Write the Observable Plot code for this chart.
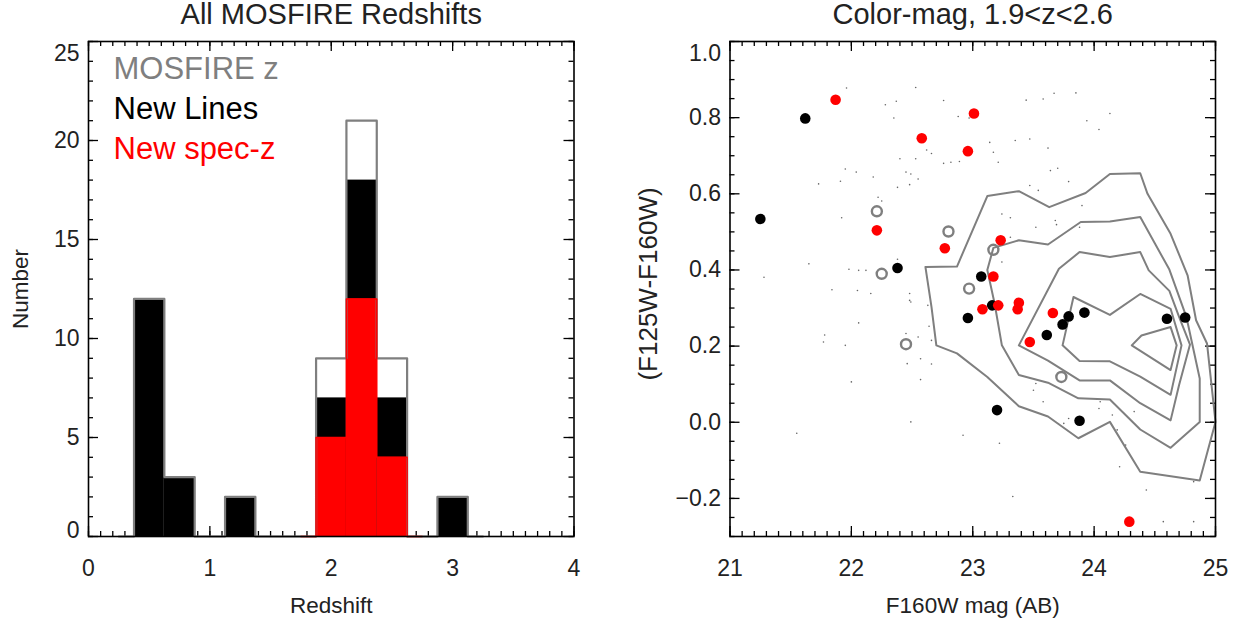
<!DOCTYPE html>
<html><head><meta charset="utf-8">
<script src="https://cdn.jsdelivr.net/npm/d3@7"></script>
<script src="https://cdn.jsdelivr.net/npm/@observablehq/plot@0.6"></script>
<style>
body{margin:0;background:#fff;}
#wrap{position:relative;width:1246px;height:624px;font-family:"Liberation Sans",Arial,sans-serif;}
#wrap svg{position:absolute;top:0;}
</style></head><body><div id="wrap"></div>
<script>
// ---------- Left panel: histogram ----------
const binCenters = [0.25,0.5,0.75,1.0,1.25,1.5,1.75,2.0,2.25,2.5,2.75,3.0,3.25];
const mosfireZ  = [0,12,3,0,2,0,0,9,21,9,0,2,0];
const newLines  = [0,12,3,0,2,0,0,7,18,7,0,2,0];
const newSpecZ  = [0,0,0,0,0,0,0,5,12,4,0,0,0];
const binWidth = 0.25;
const legendLabels = ["MOSFIRE z","New Lines","New spec-z"];
const leftXTicks = [0,1,2,3,4];
const leftYTicks = [0,5,10,15,20,25];

// ---------- Right panel: colour-magnitude ----------
const blackMag = [21.25,21.62,22.38,23.07,22.96,23.16,23.20,23.61,23.74,23.79,23.92,23.88,24.60,24.75];
const blackCol = [0.534,0.798,0.405,0.383,0.274,0.307,0.032,0.229,0.257,0.278,0.288,0.004,0.272,0.275];
const redMag = [21.87,22.58,23.01,22.96,22.21,22.77,23.23,23.17,23.08,23.21,23.38,23.37,23.66,23.47,24.29];
const redCol = [0.847,0.746,0.811,0.712,0.504,0.457,0.478,0.383,0.297,0.307,0.314,0.297,0.287,0.211,-0.261];
const openMag = [22.21,22.25,22.80,23.17,22.97,22.45,23.73];
const openCol = [0.554,0.390,0.501,0.453,0.351,0.205,0.119];
const fieldMag = [21.96,22.53,22.37,22.28,22.76,22.35,22.88,22.97,23.44,23.67,23.85,23.58,24.04,24.13,23.94,23.62,23.47,23.35,23.14,23.17,23.21,22.82,22.76,22.53,22.62,22.66,22.89,22.40,21.95,22.04,22.18,21.91,21.73,22.38,22.45,22.49,22.55,22.48,22.22,22.25,21.92,21.65,21.98,22.06,22.12,22.38,22.05,21.84,22.16,22.48,22.63,22.49,22.48,22.64,22.66,22.45,22.55,22.06,21.78,21.77,21.95,22.57,22.66,22.46,22.00,22.57,22.49,21.55,21.28,23.70,23.64,23.79,23.90,23.88,23.69,23.54,23.47,23.24,23.31,23.52,23.68,23.31,23.24,23.50,23.58,23.75,24.04,24.19,24.26,24.43,24.57,24.82,24.82,24.21,23.33,23.22,22.92,23.52,24.05,24.15,24.33,23.79];
const fieldCol = [0.878,0.879,0.843,0.834,0.845,0.799,0.803,0.799,0.846,0.864,0.865,0.849,0.769,0.811,0.792,0.720,0.744,0.740,0.735,0.709,0.683,0.683,0.680,0.692,0.715,0.706,0.685,0.692,0.665,0.657,0.644,0.633,0.626,0.617,0.657,0.652,0.639,0.624,0.591,0.581,0.537,0.416,0.402,0.399,0.399,0.428,0.346,0.348,0.338,0.320,0.307,0.316,0.338,0.252,0.215,0.233,0.224,0.261,0.229,0.211,0.202,0.167,0.153,0.154,0.106,0.112,0.001,-0.029,0.381,0.667,0.661,0.632,0.569,0.512,0.519,0.609,0.622,0.547,0.537,0.512,0.530,0.486,0.421,0.084,0.054,-0.003,0.036,-0.020,-0.060,-0.178,-0.261,-0.156,-0.261,-0.117,-0.195,-0.055,-0.034,0.102,0.054,0.019,0.028,0.010];
const contour1 = [[22.61,0.408],[22.87,0.409],[23.12,0.594],[23.38,0.607],[23.63,0.565],[23.93,0.602],[24.13,0.652],[24.38,0.654],[24.44,0.600],[24.63,0.495],[24.77,0.386],[24.84,0.268],[24.93,0.207],[25.00,0.001],[24.87,-0.153],[24.38,-0.130],[24.13,0.001],[23.87,-0.042],[23.62,0.015],[23.38,0.042],[23.12,0.119],[22.87,0.181],[22.70,0.202],[22.66,0.303],[22.61,0.408]];
const contour2 = [[23.12,0.400],[23.17,0.458],[23.38,0.478],[23.62,0.467],[23.89,0.526],[24.13,0.527],[24.38,0.539],[24.62,0.401],[24.76,0.277],[24.87,0.115],[24.87,0.001],[24.63,-0.067],[24.38,-0.019],[24.13,0.060],[23.87,0.063],[23.62,0.104],[23.38,0.124],[23.24,0.202],[23.18,0.312],[23.12,0.400]];
const contour3 = [[23.38,0.202],[23.71,0.403],[23.88,0.447],[24.13,0.434],[24.38,0.447],[24.45,0.399],[24.62,0.345],[24.70,0.277],[24.79,0.204],[24.70,0.098],[24.63,0.005],[24.38,0.050],[24.13,0.110],[23.88,0.110],[23.62,0.162],[23.38,0.202]];
const contour4 = [[23.74,0.202],[23.83,0.329],[24.13,0.282],[24.38,0.337],[24.63,0.298],[24.72,0.202],[24.63,0.072],[24.38,0.120],[24.13,0.160],[23.88,0.161],[23.74,0.202]];
const contour5 = [[24.31,0.202],[24.39,0.228],[24.63,0.250],[24.68,0.202],[24.63,0.137],[24.31,0.202]];
const rightXTicks = [21,22,23,24,25];
const rightYTicks = [-0.2,0.0,0.2,0.4,0.6,0.8,1.0];

const FONT = '"Liberation Sans", Arial, sans-serif';
const GRAY = "#7f7f7f";
const H = 624, MT = 41, MB = 88;
const FH = H - MT - MB;
const TICKFS = 23, AXFS = 22.5, TITLEFS = 29;

function boxTicks(xMinor, xMajor, yMinor, yMajor, fw) {
  const fh = FH;
  const o = {stroke: "black", strokeWidth: 1.3};
  return [
    Plot.tickX(xMinor, {x: d => d, insetTop: fh - 5, ...o}),
    Plot.tickX(xMinor, {x: d => d, insetBottom: fh - 5, ...o}),
    Plot.tickX(xMajor, {x: d => d, insetTop: fh - 10, ...o}),
    Plot.tickX(xMajor, {x: d => d, insetBottom: fh - 10, ...o}),
    Plot.tickY(yMinor, {y: d => d, insetRight: fw - 5, ...o}),
    Plot.tickY(yMinor, {y: d => d, insetLeft: fw - 5, ...o}),
    Plot.tickY(yMajor, {y: d => d, insetRight: fw - 10, ...o}),
    Plot.tickY(yMajor, {y: d => d, insetLeft: fw - 10, ...o})
  ];
}

// Left
{
  const W = 623, ML = 88, MR = 49.5;
  const FW = W - ML - MR;
  const hist = binCenters.map((c, i) => ({x1: c - binWidth/2, x2: c + binWidth/2, c, all: mosfireZ[i], lines: newLines[i], spec: newSpecZ[i]}));
  const specRange = hist.filter(d => d.c >= 1.75 && d.c <= 2.75);
  const legendColors = [GRAY, "black", "#ff0000"];
  const p = Plot.plot({
    width: W, height: H, marginLeft: ML, marginRight: MR, marginTop: MT, marginBottom: MB,
    x: {domain: [0, 4]}, y: {domain: [0, 25]},
    style: {fontFamily: FONT, background: "white", overflow: "visible", color: "#222"},
    marks: [
      ...boxTicks(d3.range(0, 4.0001, 0.1).map(v => +v.toFixed(2)), leftXTicks, d3.range(0, 25.5, 1), leftYTicks, FW),
      Plot.rectY(hist.filter(d => d.lines > 0), {x1: "x1", x2: "x2", y: "lines", fill: "black", inset: 0}),
      Plot.rectY(hist.filter(d => d.spec > 0), {x1: "x1", x2: "x2", y: "spec", fill: "#ff0000", inset: 0}),
      Plot.line(hist, {x: "c", y: "all", curve: "step", stroke: GRAY, strokeWidth: 2.2}),
      Plot.line(specRange, {x: "c", y: "spec", curve: "step", stroke: "#ff0000", strokeWidth: 1.5}),
      Plot.frame({stroke: "black", strokeWidth: 1.6}),
      Plot.axisX({ticks: leftXTicks, tickSize: 0, tickPadding: 23, fontSize: TICKFS, label: null, tickFormat: d => d}),
      Plot.axisY({ticks: leftYTicks.slice(1, -1), tickSize: 0, tickPadding: 9, fontSize: TICKFS, label: null}),
      Plot.text([leftYTicks[0]], {y: d => d, text: d => String(d), frameAnchor: "left", dx: -9, dy: -6, textAnchor: "end", fontSize: TICKFS}),
      Plot.text([leftYTicks[leftYTicks.length-1]], {y: d => d, text: d => String(d), frameAnchor: "left", dx: -9, dy: 12, textAnchor: "end", fontSize: TICKFS}),
      ...legendLabels.map((t, i) => Plot.text([t], {text: d => d, frameAnchor: "top-left", dx: 25, dy: 28 + 40*i, textAnchor: "start", lineAnchor: "middle", fill: legendColors[i], fontSize: 31})),
      Plot.text(["All MOSFIRE Redshifts"], {text: d => d, frameAnchor: "top", dy: -27, textAnchor: "middle", lineAnchor: "middle", fontSize: TITLEFS}),
      Plot.text(["Redshift"], {text: d => d, frameAnchor: "bottom", dy: 69, textAnchor: "middle", lineAnchor: "middle", fontSize: AXFS}),
      Plot.text(["Number"], {text: d => d, frameAnchor: "left", dx: -68, rotate: -90, textAnchor: "middle", lineAnchor: "middle", fontSize: AXFS})
    ]
  });
  p.style.left = "0px";
  document.getElementById("wrap").appendChild(p);
}

// Right
{
  const W = 623, ML = 106.5, MR = 31;
  const FW = W - ML - MR;
  const contours = [contour1, contour2, contour3, contour4, contour5]
    .flatMap((c, k) => c.map(([m, col]) => ({m, col, k})));
  const pts = (mag, col) => mag.map((m, i) => ({m, col: col[i]}));
  const p = Plot.plot({
    width: W, height: H, marginLeft: ML, marginRight: MR, marginTop: MT, marginBottom: MB,
    x: {domain: [21, 25]}, y: {domain: [-0.3, 1.0]},
    style: {fontFamily: FONT, background: "white", overflow: "visible", color: "#222"},
    marks: [
      ...boxTicks(d3.range(21, 25.0001, 0.1).map(v => +v.toFixed(2)), rightXTicks, d3.range(-0.3, 1.0001, 0.05).map(v => +v.toFixed(2)), rightYTicks, FW),
      Plot.dot(pts(fieldMag, fieldCol), {x: "m", y: "col", r: 0.8, fill: "#666", stroke: "none"}),
      Plot.line(contours, {x: "m", y: "col", z: "k", stroke: GRAY, strokeWidth: 2}),
      Plot.dot(pts(openMag, openCol), {x: "m", y: "col", r: 5, stroke: GRAY, strokeWidth: 2.4, fill: "none"}),
      Plot.dot(pts(blackMag, blackCol), {x: "m", y: "col", r: 5.3, fill: "black", stroke: "none"}),
      Plot.dot(pts(redMag, redCol), {x: "m", y: "col", r: 5.3, fill: "#ff0000", stroke: "none"}),
      Plot.frame({stroke: "black", strokeWidth: 1.6}),
      Plot.axisX({ticks: rightXTicks, tickSize: 0, tickPadding: 23, fontSize: TICKFS, label: null, tickFormat: d => d}),
      Plot.axisY({ticks: rightYTicks.slice(0, -1), tickSize: 0, tickPadding: 9, fontSize: TICKFS, label: null, tickFormat: d3.format(".1f")}),
      Plot.text([rightYTicks[rightYTicks.length-1]], {y: d => d, text: d => d3.format(".1f")(d), frameAnchor: "left", dx: -9, dy: 12, textAnchor: "end", fontSize: TICKFS}),
      Plot.text(["Color-mag, 1.9<z<2.6"], {text: d => d, frameAnchor: "top", dy: -27, textAnchor: "middle", lineAnchor: "middle", fontSize: TITLEFS}),
      Plot.text(["F160W mag (AB)"], {text: d => d, frameAnchor: "bottom", dy: 69, textAnchor: "middle", lineAnchor: "middle", fontSize: AXFS}),
      Plot.text(["(F125W-F160W)"], {text: d => d, frameAnchor: "left", dx: -81, dy: -5, rotate: -90, textAnchor: "middle", lineAnchor: "middle", fontSize: 26})
    ]
  });
  p.style.left = "623px";
  document.getElementById("wrap").appendChild(p);
}
</script></body></html>
